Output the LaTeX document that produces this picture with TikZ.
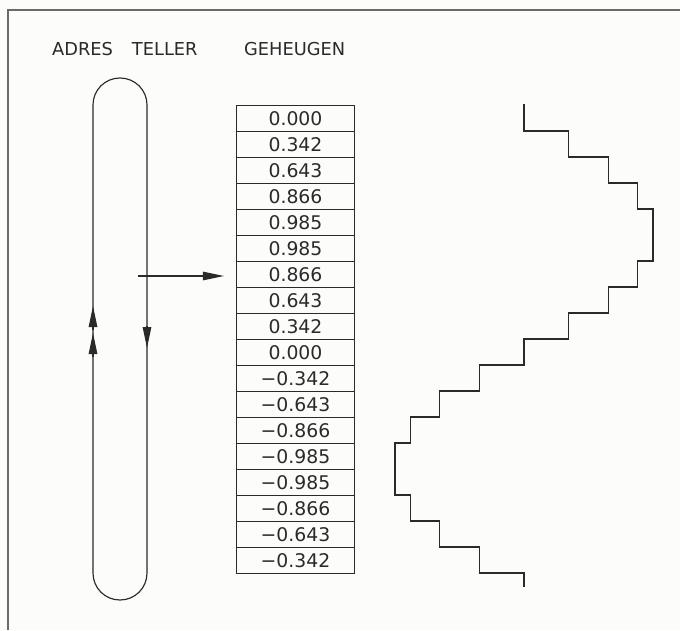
\documentclass[tikz,border=0pt]{standalone}
\usepackage{fontspec}
\setmainfont{DejaVu Sans}
\usetikzlibrary{arrows.meta}
\definecolor{ink}{HTML}{2A2A2A}
\definecolor{paper}{HTML}{FCFCFB}
\definecolor{framec}{HTML}{6A6A6A}
\begin{document}
\begin{tikzpicture}[x=1pt,y=-1pt,
  inkline/.style={draw=ink,line width=1.15pt},
  cell/.style={draw=ink,line width=1.15pt,minimum width=118pt,minimum height=26pt,inner sep=0pt,anchor=north,font=\fontsize{18.8}{20}\selectfont,text=ink},
  heading/.style={anchor=base west,inner sep=0pt,font=\fontsize{17.8}{20}\selectfont,text=ink},
  arr/.style={draw=ink,line width=1.15pt,-{Triangle[length=21pt,width=8.5pt]}},
  pill/.style={draw=ink,line width=1.15pt,rounded corners=26.9pt,minimum width=54pt,minimum height=522pt,inner sep=0pt}
]
\fill[paper] (0,0) rectangle (680,630);
\useasboundingbox (0,0) rectangle (680,630);
% frame
\draw[draw=framec,line width=1.2pt] (8,630) -- (8,10) -- (680,10);
% headings
\node[heading] (h1) at (52,55.5) {ADRES\hspace{19pt}TELLER};
\node[heading] (h2) at (244,55.5) {GEHEUGEN};
% memory table
\foreach \v [count=\i] in {0.000,0.342,0.643,0.866,0.985,0.985,0.866,0.643,0.342,0.000,−0.342,−0.643,−0.866,−0.985,−0.985,−0.866,−0.643,−0.342}
  \node[cell] (r\i) at (295.5,{105+26*(\i-1)}) {\v};
% address counter loop
\node[pill] (cnt) at (120,339) {};
\coordinate (u1) at (93,306);
\coordinate (u1s) at (93,330);
\coordinate (u2) at (93,333);
\coordinate (u2s) at (93,357);
\coordinate (d1) at (147,348);
\coordinate (d1s) at (147,326);
\draw[arr] (u1s) -- (u1);
\draw[arr] (u2s) -- (u2);
\draw[arr] (d1s) -- (d1);
\coordinate (hs) at (138,276);
\draw[arr,shorten >=12pt] (hs) -- (hs -| r7.west);
% staircase waveform
\draw[inkline] (524,104) foreach \v [count=\i] in {0,0.342,0.643,0.866,0.985,0.985,0.866,0.643,0.342,0,-0.342,-0.643,-0.866,-0.985,-0.985,-0.866,-0.643,-0.342} { -- ({524+131*\v},{105+26*(\i-1)}) -- ({524+131*\v},{105+26*\i}) } -- (524,573) -- (524,587);
\end{tikzpicture}
\end{document}
